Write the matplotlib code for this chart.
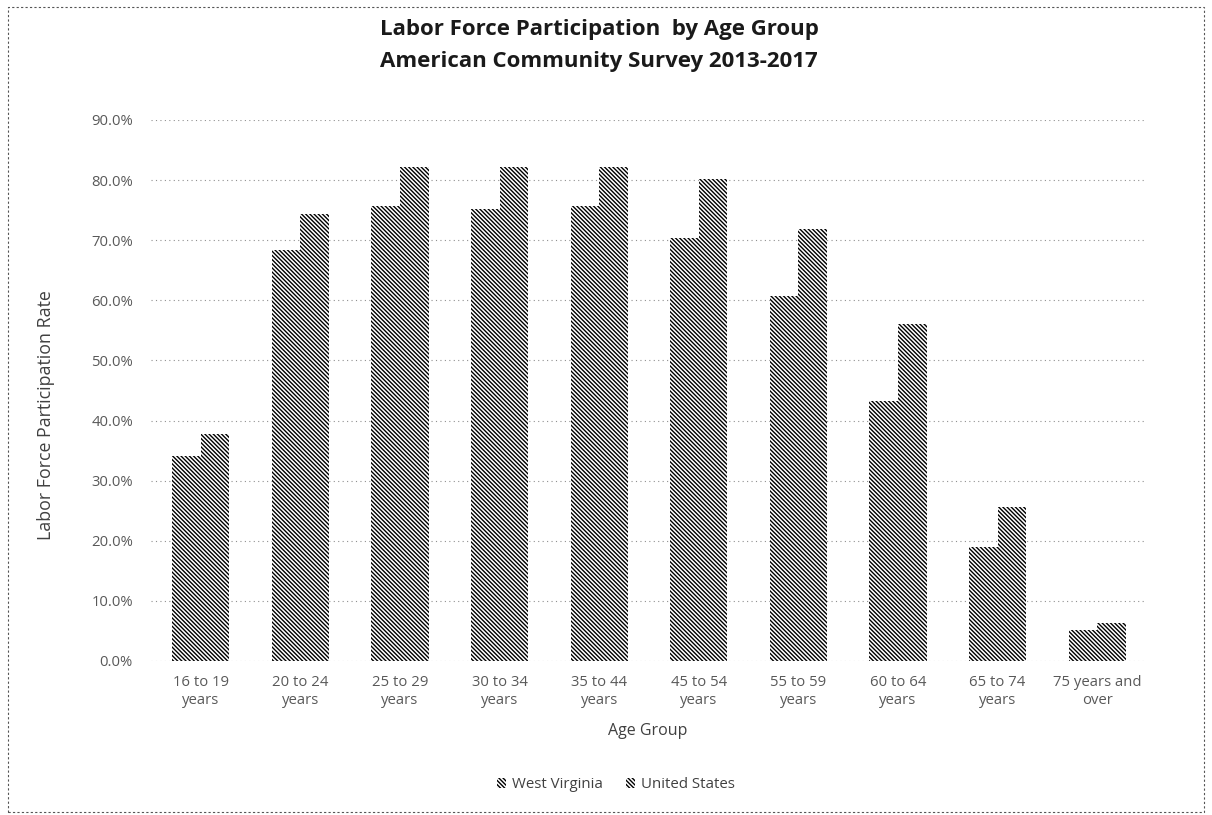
import matplotlib
matplotlib.use("Agg")
import matplotlib.pyplot as plt
import numpy as np
from matplotlib.patches import Rectangle
from matplotlib.ticker import FuncFormatter

categories = ["16 to 19\nyears", "20 to 24\nyears", "25 to 29\nyears", "30 to 34\nyears",
              "35 to 44\nyears", "45 to 54\nyears", "55 to 59\nyears", "60 to 64\nyears",
              "65 to 74\nyears", "75 years and\nover"]
west_virginia = [0.341, 0.684, 0.757, 0.752, 0.757, 0.704, 0.607, 0.433, 0.190, 0.052]
united_states = [0.378, 0.744, 0.822, 0.822, 0.822, 0.802, 0.719, 0.561, 0.257, 0.064]
series_names = ["West Virginia", "United States"]

plt.rcParams['font.family'] = ['Open Sans', 'DejaVu Sans']
plt.rcParams['hatch.linewidth'] = 1.0

fig = plt.figure(figsize=(12.12, 8.15), dpi=100)
ax = fig.add_axes([151/1212, 1-661/815, (1147-151)/1212, (661-120)/815])

HATCH = '\\' * 8
x = np.arange(len(categories))
w = 0.287
ax.bar(x - w/2, west_virginia, w, facecolor='white', edgecolor='black', linewidth=0,
       hatch=HATCH, label=series_names[0], zorder=3)
ax.bar(x + w/2, united_states, w, facecolor='white', edgecolor='black', linewidth=0,
       hatch=HATCH, label=series_names[1], zorder=3)

ax.set_xlim(-0.5, len(categories) - 0.5)
ax.set_ylim(0, 0.9)
ax.set_yticks(np.arange(0, 0.91, 0.1))
ax.yaxis.set_major_formatter(FuncFormatter(lambda v, p: f"{v*100:.1f}%"))
ax.set_xticks(x)
ax.set_xticklabels(categories, linespacing=1.3)
for s in ax.spines.values():
    s.set_visible(False)
ax.tick_params(axis='both', length=0, labelsize=10.7, labelcolor='#595959')
ax.tick_params(axis='y', pad=13)
ax.tick_params(axis='x', pad=10)
ax.yaxis.grid(True, linestyle=(0, (1, 3)), color='#909090', linewidth=0.8, zorder=0)
ax.set_axisbelow(True)

fig.text(46/1212, 1-415/815, "Labor Force Participation Rate", rotation=90, ha='center',
         va='center', fontsize=12.8, color='#404040')
fig.text(648/1212, 1-731/815, "Age Group", ha='center', va='center', fontsize=11.5,
         color='#404040')

fig.text(599/1212, 1-29/815, "Labor Force Participation  by Age Group", ha='center', va='center',
         fontsize=16, fontweight='bold', color='#1a1a1a')
fig.text(599/1212, 1-61/815, "American Community Survey 2013-2017", ha='center', va='center',
         fontsize=16, fontweight='bold', color='#1a1a1a')

leg = fig.legend(loc='center', bbox_to_anchor=(616/1212, 1-785/815), ncol=2, frameon=False,
                 fontsize=10.8, handlelength=0.6, handleheight=0.6, handletextpad=0.4,
                 columnspacing=1.5)
for t in leg.get_texts():
    t.set_color('#404040')

border = Rectangle((8/1212, 3/815), 1196/1212, 805/815, transform=fig.transFigure,
                   fill=False, edgecolor='#555555', linestyle=(0, (2, 2)), linewidth=0.8)
fig.add_artist(border)

fig.savefig("out.png", dpi=100)
